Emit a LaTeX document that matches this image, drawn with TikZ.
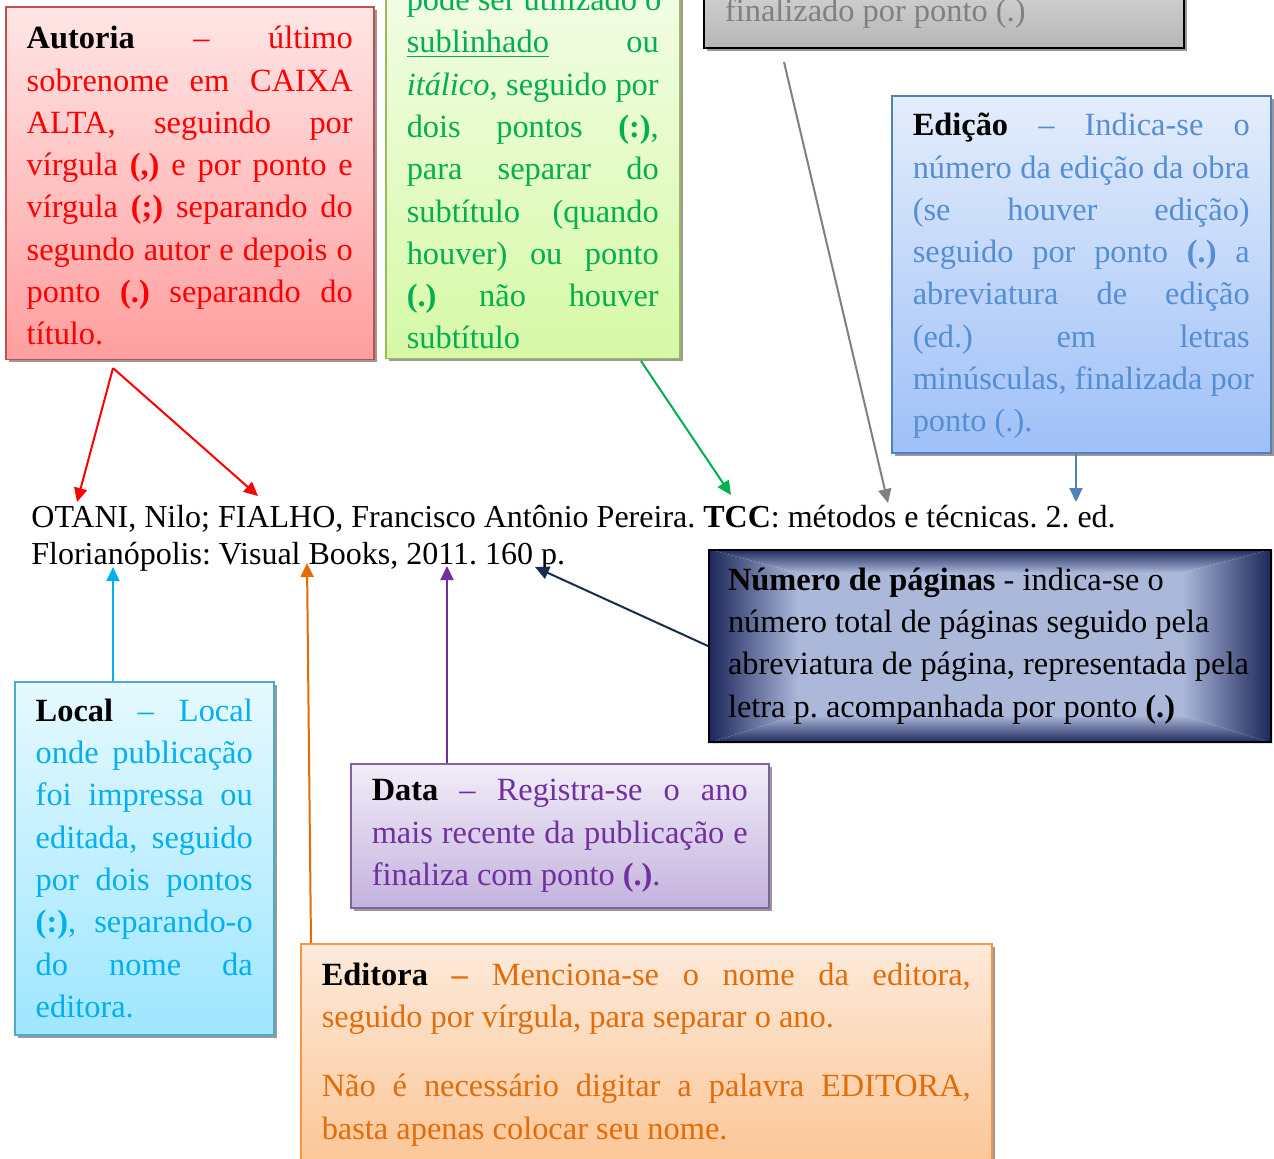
\documentclass[tikz,border=0pt]{standalone}
\usepackage{fontspec}
\setmainfont{Liberation Serif}
\usepackage{xcolor}
\usepackage{tikz}
\usetikzlibrary{arrows.meta, positioning, shadows, backgrounds, calc}
\definecolor{vermelho}{RGB}{255,0,0}
\definecolor{bordaverm}{RGB}{192,80,77}
\definecolor{rosaclaro}{RGB}{255,230,230}
\definecolor{rosaescuro}{RGB}{255,158,158}
\definecolor{verde}{RGB}{0,176,80}
\definecolor{bordaverde}{RGB}{155,187,89}
\definecolor{verdeclaro}{RGB}{243,253,230}
\definecolor{verdeescuro}{RGB}{214,249,166}
\definecolor{cinzatexto}{RGB}{128,128,128}
\definecolor{cinzaclaro}{RGB}{214,214,214}
\definecolor{cinzaescuro}{RGB}{182,182,182}
\definecolor{azul}{RGB}{85,142,213}
\definecolor{bordaazul}{RGB}{79,129,189}
\definecolor{azulclaro}{RGB}{228,237,251}
\definecolor{azulescuro}{RGB}{158,192,248}
\definecolor{marinho}{RGB}{23,45,80}
\definecolor{marinhoescuro}{RGB}{27,37,90}
\definecolor{marinhoclaro}{RGB}{172,184,218}
\definecolor{ciano}{RGB}{0,176,240}
\definecolor{bordaciano}{RGB}{75,172,198}
\definecolor{cianoclaro}{RGB}{230,249,255}
\definecolor{cianoescuro}{RGB}{158,230,255}
\definecolor{roxo}{RGB}{112,48,160}
\definecolor{bordaroxo}{RGB}{128,100,162}
\definecolor{roxoclaro}{RGB}{242,237,248}
\definecolor{roxoescuro}{RGB}{196,178,222}
\definecolor{laranja}{RGB}{227,108,9}
\definecolor{bordalaranja}{RGB}{247,150,70}
\definecolor{laranjaclaro}{RGB}{253,234,218}
\definecolor{laranjaescuro}{RGB}{251,190,135}
\newcommand{\fontecaixa}{\fontsize{16.2}{21.15}\selectfont}
% linha justificada e linha natural
\newcommand{\jl}[1]{\leavevmode\hbox to \lcaixa{\spaceskip=0.25em plus 1fil\relax #1}}
\newcommand{\nl}[1]{\leavevmode\hbox{\spaceskip=0.25em\relax #1}}
\frenchspacing

\begin{document}
\begin{tikzpicture}[
    x=0.5pt, y=-0.5pt,
    caixa/.style={
        rectangle,
        draw,
        line width=0.75pt,
        align=left,
        inner xsep=10.5pt,
        inner ysep=7pt,
        font=\fontecaixa
    },
    box/.style={
        caixa,
        drop shadow={shadow xshift=1.5pt, shadow yshift=-1.5pt, fill=black!40, opacity=1}
    },
    largura/.style={text width=#1, execute at begin node={\def\lcaixa{#1}}},
    seta/.style={line width=1pt, -{Triangle[length=7pt, width=6.5pt]}}
]
\useasboundingbox (0,0) rectangle (1274,1158);
\clip (0,0) rectangle (1274,1158);
\begin{scope}[on background layer]
  \fill[white] (0,0) rectangle (1274,1158);
\end{scope}

% ---------------- Autoria ----------------
\node[box, draw=bordaverm, top color=rosaclaro, bottom color=rosaescuro, text=vermelho,
      largura=163pt, minimum width=184pt, minimum height=174.5pt, anchor=north west] (autoria) at (5,6) {%
\jl{\rule{0pt}{14pt}\textcolor{black}{\textbf{Autoria}} -- último}\\
\jl{sobrenome em CAIXA}\\
\jl{ALTA, seguindo por}\\
\jl{vírgula \textbf{(,)} e por ponto e}\\
\jl{vírgula \textbf{(;)} separando do}\\
\jl{segundo autor e depois o}\\
\jl{ponto \textbf{(.)} separando do}\\
\nl{título.}};

% ---------------- Titulo ----------------
\node[box, draw=bordaverde, top color=verdeclaro, bottom color=verdeescuro, text=verde,
      largura=126pt, inner ysep=4.5pt, anchor=south west] (titulo) at (385,359) {%
\jl{pode ser utilizado o}\\
\jl{\underline{sublinhado} ou}\\
\jl{\textit{itálico}, seguido por}\\
\jl{dois pontos \textbf{(:)},}\\
\jl{para separar do}\\
\jl{subtítulo (quando}\\
\jl{houver) ou ponto}\\
\jl{\textbf{(.)} não houver}\\
\nl{subtítulo}};

% ---------------- Subtitulo ----------------
\node[box, draw=black, line width=1pt, top color=cinzaclaro, bottom color=cinzaescuro, text=cinzatexto,
      largura=219pt, inner ysep=10pt, anchor=south west] (subtitulo) at (703,49) {\nl{finalizado por ponto (.)}};

% ---------------- Edicao ----------------
\node[box, draw=bordaazul, top color=azulclaro, bottom color=azulescuro, text=azul,
      largura=168.5pt, minimum height=177pt, anchor=north west] (edicao) at (891,95) {%
\jl{\rule{0pt}{13pt}\textcolor{black}{\textbf{Edição}} -- Indica-se o}\\
\jl{número da edição da obra}\\
\jl{(se houver edição)}\\
\jl{seguido por ponto \textbf{(.)} a}\\
\jl{abreviatura de edição}\\
\jl{(ed.) em letras}\\
\jl{minúsculas, finalizada por}\\
\nl{ponto (.).}};

% ---------------- Referencia ----------------
\node[anchor=north west, inner sep=0pt, align=left, font=\fontsize{16}{18.5}\selectfont] (ref) at (31,505) {%
OTANI, Nilo; FIALHO, Francisco Antônio Pereira. \textbf{TCC}: métodos e técnicas. 2. ed.\\
Florianópolis: Visual Books, 2011. 160 p.};

% ---------------- Numero de paginas ----------------
\node[caixa, draw=black, line width=1pt, text=black,
      largura=262pt, inner xsep=9.5pt, minimum height=96pt, anchor=north west] (paginas) at (708,549) {%
\nl{\textbf{Número de páginas} - indica-se o}\\
\nl{número total de páginas seguido pela}\\
\nl{abreviatura de página, representada pela}\\
\nl{letra p. acompanhada por ponto \textbf{(.)}}};

\begin{scope}[on background layer]
  \coordinate (onw) at (paginas.north west);
  \coordinate (one) at (paginas.north east);
  \coordinate (osw) at (paginas.south west);
  \coordinate (ose) at (paginas.south east);
  \coordinate (inw) at ($(onw)+(90,24)$);
  \coordinate (ine) at ($(one)+(-90,24)$);
  \coordinate (isw) at ($(osw)+(90,-28)$);
  \coordinate (ise) at ($(ose)+(-90,-28)$);
  \fill[marinhoclaro] (inw) rectangle (ise);
  \shade[top color=marinhoescuro, bottom color=marinhoclaro] (onw) -- (one) -- (ine) -- (inw) -- cycle;
  \shade[top color=marinhoclaro, bottom color=marinhoescuro] (isw) -- (ise) -- (ose) -- (osw) -- cycle;
  \shade[left color=marinhoescuro, right color=marinhoclaro] (onw) -- (inw) -- (isw) -- (osw) -- cycle;
  \shade[left color=marinhoclaro, right color=marinhoescuro] (ine) -- (one) -- (ose) -- (ise) -- cycle;
\end{scope}

% ---------------- Local ----------------
\node[box, draw=bordaciano, top color=cianoclaro, bottom color=cianoescuro, text=ciano,
      largura=108.5pt, minimum height=176.5pt, anchor=north west] (local) at (14,681) {%
\jl{\textcolor{black}{\textbf{Local}} -- Local}\\
\jl{onde publicação}\\
\jl{foi impressa ou}\\
\jl{editada, seguido}\\
\jl{por dois pontos}\\
\jl{\textbf{(:)}, separando-o}\\
\jl{do nome da}\\
\nl{editora.}};

% ---------------- Data ----------------
\node[box, draw=bordaroxo, top color=roxoclaro, bottom color=roxoescuro, text=roxo,
      largura=188pt, minimum height=72pt, anchor=north west] (data) at (350,763) {%
\jl{\textcolor{black}{\textbf{Data}} -- Registra-se o ano}\\
\jl{mais recente da publicação e}\\
\nl{finaliza com ponto \textbf{(.)}.}};

% ---------------- Editora ----------------
\node[box, draw=bordalaranja, top color=laranjaclaro, bottom color=laranjaescuro, text=laranja,
      largura=324.5pt, inner ysep=9.5pt, anchor=north west] (editora) at (300,943) {%
\jl{\textcolor{black}{\textbf{Editora}} \textbf{--} Menciona-se o nome da editora,}\\
\nl{seguido por vírgula, para separar o ano.}\\[13.5pt]
\jl{Não é necessário digitar a palavra EDITORA,}\\
\nl{basta apenas colocar seu nome.}\par\vspace*{25pt}};

% ---------------- Setas ----------------
\coordinate (sAutoria) at ([xshift=54pt, yshift=-4pt]autoria.south west);
\coordinate (pAutor1) at (77,502);
\coordinate (pAutor2) at (258,496);
\coordinate (pTitulo) at (731,495);
\coordinate (pSubtitulo) at (888,503);
\coordinate (pEdicao) at (1076,502);
\coordinate (pLocal) at (113,567);
\coordinate (pEditora) at (307,563);
\coordinate (pData) at (447,566);
\coordinate (pPaginas) at (535,567);

\draw[seta, vermelho] (sAutoria) -- (pAutor1);
\draw[seta, vermelho] (sAutoria) -- (pAutor2);
\draw[seta, verde] ([xshift=128pt, yshift=-1pt]titulo.south west) -- (pTitulo);
\draw[seta, cinzatexto] ([xshift=40.5pt, yshift=-6.5pt]subtitulo.south west) -- (pSubtitulo);
\draw[seta, bordaazul] (edicao.south -| pEdicao) -- (pEdicao);
\draw[seta, ciano] (local.north -| pLocal) -- (pLocal);
\draw[seta, laranja] ([xshift=5.5pt]editora.north west) -- (pEditora);
\draw[seta, roxo] (data.north -| pData) -- (pData);
\draw[seta, marinho] (paginas.west) -- (pPaginas);

\end{tikzpicture}
\end{document}
